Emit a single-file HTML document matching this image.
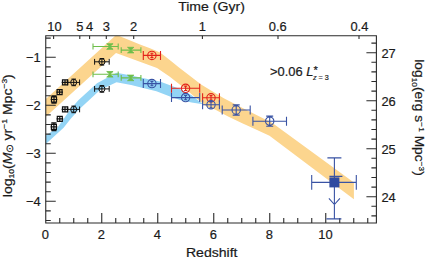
<!DOCTYPE html><html><head><meta charset="utf-8"><style>html,body{margin:0;padding:0;background:#fff}svg{display:block}text{font-family:"Liberation Sans",sans-serif;fill:#1a1a1a;stroke:#1a1a1a;stroke-width:0.2px}</style></head><body>
<svg width="427" height="259" viewBox="0 0 427 259">
<rect width="427" height="259" fill="#fff"/>
<defs><clipPath id="c"><rect x="45.75" y="35.80" width="330.65" height="187.20"/></clipPath></defs>
<polygon points="45.8,99.0 116.3,34.8 140.0,44.6 150.0,48.2 160.0,52.6 165.0,56.2 171.0,61.0 179.0,67.5 194.0,79.0 201.1,84.4 223.8,98.3 244.0,108.7 272.0,122.8 353.9,182.4 353.9,199.2 269.5,135.8 250.0,126.8 242.2,123.3 228.1,116.5 215.5,109.8 206.4,106.4 183.2,87.2 169.5,76.6 157.0,68.1 116.0,53.0 45.8,116.8" fill="#fcd58e" clip-path="url(#c)"/>
<polygon points="45.8,135.5 57.4,127.8 64.0,118.5 70.4,109.3 78.6,100.0 97.0,83.3 116.5,72.8 131.1,75.4 145.1,78.6 160.0,81.4 170.0,85.2 180.0,89.1 191.6,95.2 203.0,104.3 191.6,102.6 180.0,99.9 170.0,96.6 156.4,91.3 145.1,88.5 131.1,85.0 116.5,82.3 100.0,90.0 79.3,109.3 70.9,118.5 63.6,127.8 45.8,144.0" fill="#93d4f5"/>
<g stroke="#2a2a2a" stroke-width="1.1" fill="none">
<path d="M45.75 35.80 H376.40 V223.00 H45.75 Z"/>
<path d="M45.75 38.10h5.0M45.75 47.70h5.0M45.75 57.30h10.0M45.75 66.90h5.0M45.75 76.50h5.0M45.75 86.10h5.0M45.75 95.70h5.0M45.75 105.30h10.0M45.75 114.90h5.0M45.75 124.50h5.0M45.75 134.10h5.0M45.75 143.70h5.0M45.75 153.30h10.0M45.75 162.90h5.0M45.75 172.50h5.0M45.75 182.10h5.0M45.75 191.70h5.0M45.75 201.30h10.0M45.75 210.90h5.0M45.75 220.50h5.0M376.40 43.10h-5.0M376.40 52.70h-10.0M376.40 62.30h-5.0M376.40 71.90h-5.0M376.40 81.50h-5.0M376.40 91.10h-5.0M376.40 100.70h-10.0M376.40 110.30h-5.0M376.40 119.90h-5.0M376.40 129.50h-5.0M376.40 139.10h-5.0M376.40 148.70h-10.0M376.40 158.30h-5.0M376.40 167.90h-5.0M376.40 177.50h-5.0M376.40 187.10h-5.0M376.40 196.70h-10.0M376.40 206.30h-5.0M376.40 215.90h-5.0M59.75 223.00v-5.0M73.75 223.00v-5.0M87.75 223.00v-5.0M101.75 223.00v-10.0M115.75 223.00v-5.0M129.75 223.00v-5.0M143.75 223.00v-5.0M157.75 223.00v-10.0M171.75 223.00v-5.0M185.75 223.00v-5.0M199.75 223.00v-5.0M213.75 223.00v-10.0M227.75 223.00v-5.0M241.75 223.00v-5.0M255.75 223.00v-5.0M269.75 223.00v-10.0M283.75 223.00v-5.0M297.75 223.00v-5.0M311.75 223.00v-5.0M325.75 223.00v-10.0M339.75 223.00v-5.0M353.75 223.00v-5.0M367.75 223.00v-5.0M53.60 35.80v3.2M79.80 35.80v3.2M89.60 35.80v3.2M106.30 35.80v3.2M133.70 35.80v3.2M202.40 35.80v3.2M278.00 35.80v3.2M359.00 35.80v3.2"/>
</g>
<g stroke="#111" stroke-width="1.0" fill="none">
<path d="M51.50 97.00h5.00v5.00h-5.00ZM50.60 99.50H57.40M54.00 95.90V103.10M51.40 95.90h5.20M51.40 103.10h5.20M57.10 89.70h5.00v5.00h-5.00ZM56.20 92.20H63.00M59.60 89.70V94.70M62.50 79.80h5.00v5.00h-5.00ZM61.60 82.30H68.40M65.00 79.80V84.80M51.40 124.30h5.00v5.00h-5.00ZM50.50 126.80H57.30M53.90 122.90V130.70M51.30 122.90h5.20M51.30 130.70h5.20M57.30 116.30h5.00v5.00h-5.00ZM56.40 118.80H63.20M59.80 116.30V121.30M62.50 106.90h5.00v5.00h-5.00ZM61.60 109.40H68.40M65.00 106.90V111.90" stroke-width="1.2"/>
<path d="M70.65 82.40a3.05 3.05 0 1 0 6.10 0a3.05 3.05 0 1 0 -6.10 0M67.80 82.40H79.60M67.80 79.50v5.80M79.60 79.50v5.80M73.70 79.10V85.70M71.40 79.10h4.60M71.40 85.70h4.60M98.85 61.80a3.05 3.05 0 1 0 6.10 0a3.05 3.05 0 1 0 -6.10 0M94.60 61.80H109.20M94.60 58.90v5.80M109.20 58.90v5.80M101.90 58.50V65.10M99.60 58.50h4.60M99.60 65.10h4.60M70.65 109.40a3.05 3.05 0 1 0 6.10 0a3.05 3.05 0 1 0 -6.10 0M67.80 109.40H79.60M67.80 106.50v5.80M79.60 106.50v5.80M73.70 106.10V112.70M71.40 106.10h4.60M71.40 112.70h4.60M98.85 88.90a3.05 3.05 0 1 0 6.10 0a3.05 3.05 0 1 0 -6.10 0M94.60 88.90H109.20M94.60 86.00v5.80M109.20 86.00v5.80M101.90 85.60V92.20M99.60 85.60h4.60M99.60 92.20h4.60"/>
</g>
<g stroke="#6ebe4a" stroke-width="1.1" fill="#6ebe4a">
<path d="M93.00 46.50H118.20M93.00 43.60v5.80M118.20 43.60v5.80M121.20 50.10H140.90M121.20 47.20v5.80M140.90 47.20v5.80M93.00 74.30H118.20M93.00 71.40v5.80M118.20 71.40v5.80M121.20 77.90H140.90M121.20 75.00v5.80M140.90 75.00v5.80" fill="none"/>
<path d="M106.70 43.70L113.10 43.70L106.70 49.30L113.10 49.30ZM127.50 47.30L133.90 47.30L127.50 52.90L133.90 52.90ZM106.70 71.50L113.10 71.50L106.70 77.10L113.10 77.10ZM127.50 75.10L133.90 75.10L127.50 80.70L133.90 80.70Z" stroke-width="0.8" stroke-linejoin="round"/>
</g>
<g stroke="#e2231a" stroke-width="1.1" fill="none">
<path d="M147.70 55.40a4.20 4.20 0 1 0 8.40 0a4.20 4.20 0 1 0 -8.40 0M143.30 55.40H160.50M143.30 50.90v9.00M160.50 50.90v9.00M151.90 53.20V57.60M150.40 53.20h3.00M150.40 57.60h3.00M181.40 88.30a4.20 4.20 0 1 0 8.40 0a4.20 4.20 0 1 0 -8.40 0M171.50 88.30H199.70M171.50 83.80v9.00M199.70 83.80v9.00M185.60 86.10V90.50M184.10 86.10h3.00M184.10 90.50h3.00M206.80 97.80a4.20 4.20 0 1 0 8.40 0a4.20 4.20 0 1 0 -8.40 0M202.60 97.80H219.40M202.60 93.30v9.00M219.40 93.30v9.00M211.00 95.60V100.00M209.50 95.60h3.00M209.50 100.00h3.00"/>
</g>
<g stroke="#3953a4" stroke-width="1.1" fill="none">
<path d="M147.70 83.60a4.20 4.20 0 1 0 8.40 0a4.20 4.20 0 1 0 -8.40 0M143.30 83.60H160.50M143.30 79.10v9.00M160.50 79.10v9.00M151.90 81.40V85.80M150.40 81.40h3.00M150.40 85.80h3.00M181.40 97.60a4.20 4.20 0 1 0 8.40 0a4.20 4.20 0 1 0 -8.40 0M171.50 97.60H199.70M171.50 93.10v9.00M199.70 93.10v9.00M185.60 95.40V99.80M184.10 95.40h3.00M184.10 99.80h3.00M206.80 104.80a4.20 4.20 0 1 0 8.40 0a4.20 4.20 0 1 0 -8.40 0M202.60 104.80H219.40M202.60 100.30v9.00M219.40 100.30v9.00M211.00 101.80V107.80M209.50 101.80h3.00M209.50 107.80h3.00M232.00 110.00a4.20 4.20 0 1 0 8.40 0a4.20 4.20 0 1 0 -8.40 0M222.20 110.00H250.20M222.20 105.50v9.00M250.20 105.50v9.00M236.20 104.90V115.10M232.70 104.90h7.00M232.70 115.10h7.00M265.50 121.20a4.20 4.20 0 1 0 8.40 0a4.20 4.20 0 1 0 -8.40 0M252.90 121.20H286.50M252.90 116.70v9.00M286.50 116.70v9.00M269.70 116.10V126.30M266.20 116.10h7.00M266.20 126.30h7.00M311.70 182.40H356.30M311.70 175.10v14.60M356.30 175.10v14.60M334.40 157.90V218.90M327.40 157.90h14M326.40 218.90h15M329.40 176.40h13M328.90 198.40L334.40 204.50L339.90 198.40"/>
<rect x="329.40" y="177.40" width="10" height="10" fill="#2f4aa0" stroke="none"/>
</g>
<text transform="translate(45.45,239.00) scale(1.000,1)" font-size="12.90" text-anchor="middle" >0</text>
<text transform="translate(101.45,239.00) scale(1.000,1)" font-size="12.90" text-anchor="middle" >2</text>
<text transform="translate(157.45,239.00) scale(1.000,1)" font-size="12.90" text-anchor="middle" >4</text>
<text transform="translate(213.45,239.00) scale(1.000,1)" font-size="12.90" text-anchor="middle" >6</text>
<text transform="translate(269.45,239.00) scale(1.000,1)" font-size="12.90" text-anchor="middle" >8</text>
<text transform="translate(325.45,239.00) scale(1.000,1)" font-size="12.90" text-anchor="middle" >10</text>
<text transform="translate(54.40,31.30) scale(1.000,1)" font-size="12.90" text-anchor="middle" >10</text>
<text transform="translate(79.80,31.30) scale(1.000,1)" font-size="12.90" text-anchor="middle" >5</text>
<text transform="translate(89.60,31.30) scale(1.000,1)" font-size="12.90" text-anchor="middle" >4</text>
<text transform="translate(106.30,31.30) scale(1.000,1)" font-size="12.90" text-anchor="middle" >3</text>
<text transform="translate(133.70,31.30) scale(1.000,1)" font-size="12.90" text-anchor="middle" >2</text>
<text transform="translate(202.40,31.30) scale(1.000,1)" font-size="12.90" text-anchor="middle" >1</text>
<text transform="translate(277.80,31.30) scale(1.000,1)" font-size="12.90" text-anchor="middle" >0.6</text>
<text transform="translate(359.40,31.30) scale(1.000,1)" font-size="12.90" text-anchor="middle" >0.4</text>
<text transform="translate(40.60,62.40) scale(1.000,1)" font-size="12.90" text-anchor="end" >−1</text>
<text transform="translate(40.60,110.40) scale(1.000,1)" font-size="12.90" text-anchor="end" >−2</text>
<text transform="translate(40.60,158.40) scale(1.000,1)" font-size="12.90" text-anchor="end" >−3</text>
<text transform="translate(40.60,206.40) scale(1.000,1)" font-size="12.90" text-anchor="end" >−4</text>
<text transform="translate(381.40,57.70) scale(1.000,1)" font-size="12.90" text-anchor="start" >27</text>
<text transform="translate(381.40,105.70) scale(1.000,1)" font-size="12.90" text-anchor="start" >26</text>
<text transform="translate(381.40,153.70) scale(1.000,1)" font-size="12.90" text-anchor="start" >25</text>
<text transform="translate(381.40,201.70) scale(1.000,1)" font-size="12.90" text-anchor="start" >24</text>
<text transform="translate(211.70,257.20) scale(1.100,1)" font-size="12.80" text-anchor="middle" >Redshift</text>
<text transform="translate(211.50,11.20) scale(1.100,1)" font-size="12.80" text-anchor="middle" >Time (Gyr)</text>
<text transform="translate(11.6,197.2) rotate(-90) scale(1.065,1)" font-size="13.2">log<tspan font-size="8.0" dy="2.5">10</tspan><tspan dy="-2.5">(</tspan><tspan font-style="italic">M</tspan><tspan font-size="9.6" dy="1.4">⊙</tspan><tspan dy="-1.4"> yr</tspan><tspan font-size="8.0" dy="-4.5">−1</tspan><tspan dy="4.5"> Mpc</tspan><tspan font-size="8.0" dy="-4.5">−3</tspan><tspan dy="4.5">)</tspan></text>
<text transform="translate(414.6,59.3) rotate(90) scale(1.045,1)" font-size="13.2">log<tspan font-size="8.0" dy="2.5">10</tspan><tspan dy="-2.5">(erg s</tspan><tspan font-size="8.0" dy="-4.5">−1</tspan><tspan dy="4.5"> Mpc</tspan><tspan font-size="8.0" dy="-4.5">−3</tspan><tspan dy="4.5">)</tspan></text>
<text transform="translate(270,76.2) scale(1.06,1)" font-size="12.2" fill="#3a3a3a" stroke="#3a3a3a">&gt;0.06 <tspan font-style="italic">L</tspan><tspan font-size="10.5" dy="-2.2">*</tspan><tspan font-size="6.8" dy="6.2" dx="-4.6" font-style="italic">z</tspan><tspan font-size="6.8"> = 3</tspan></text>
</svg></body></html>
